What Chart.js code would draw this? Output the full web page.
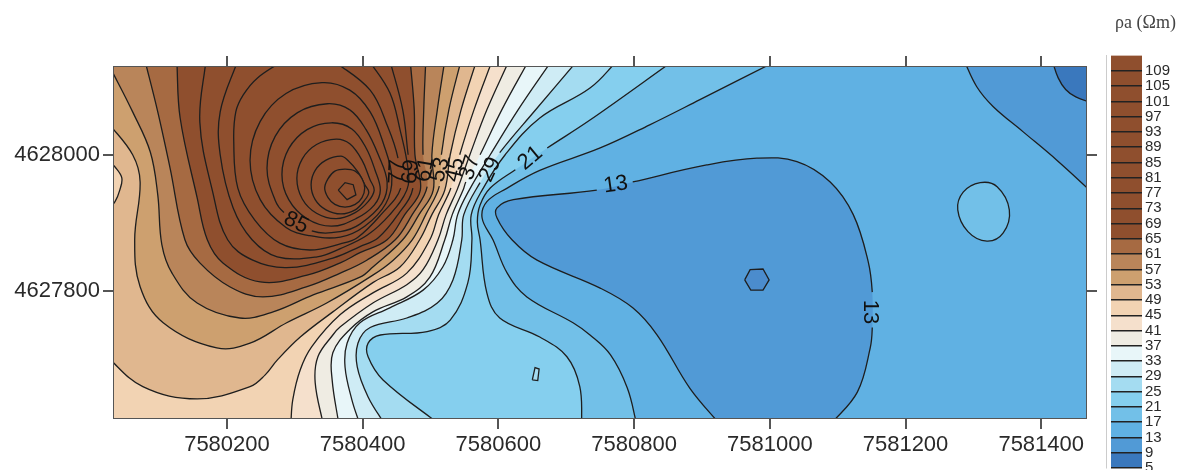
<!DOCTYPE html>
<html>
<head>
<meta charset="utf-8">
<script src="https://cdn.jsdelivr.net/npm/chart.js@4"></script>
<style>
  html, body { margin: 0; background: #fff; overflow: hidden; }
  #wrap { position: relative; width: 1180px; height: 470px; }
  #map { position: absolute; left: 0; top: 0; }
  #scalebar { position: absolute; left: 1106px; top: 0; }
</style>
</head>
<body>
<div id="wrap">
  <canvas id="map" width="1180" height="470"></canvas>
  <canvas id="scalebar" width="74" height="470"></canvas>
</div>
<script>
// Offsets in metres from these two values
const EAST0 = 7580000;
const NORTH0 = 4627600;

const xExtent = [33.5, 1466];
const yExtent = [13, 529];
const xTicks = [7580200, 7580400, 7580600, 7580800, 7581000, 7581200, 7581400];
const yTicks = [4627800, 4628000];

const levels = [5, 9, 13, 17, 21, 25, 29, 33, 37, 41, 45, 49, 53, 57, 61, 65, 69, 73, 77, 81, 85, 89, 93, 97, 101, 105, 109];
const bandColors = ['#3a78bd', '#519ad6', '#60b1e3', '#72c0e8', '#85cfee', '#a4dcf1', '#cfecf5', '#e8f6f9', '#efece3', '#f5e0cc', '#f2d3b3', '#e0b78f', '#cda06f', '#b9855a', '#a66a42', '#8f4f2e'];

// contour lines, [east, north] offsets
const c9Corner = [[1416,539],[1425,513],[1436,496],[1451,485],[1479,475]];
const c9Hole = [[963,216],[971,231],[990,232],[999,216],[990,201],[972,201],[963,216]];
const c13Stripe = [[1286,539],[1305,500],[1329,471],[1373,434],[1423,392],[1479,341]];
const c13Blob = [[927,3],[882,57],[834,135],[798,175],[750,204],[657,245],[620,275],[598,307],[598,322],[622,334],[745,348],[798,360],[907,385],[981,395],[1040,390],[1089,360],[1123,312],[1145,243],[1151,198],[1151,146],[1148,116],[1129,51],[1089,3]];
const c17Island = [[1310,359],[1335,353],[1353,319],[1344,285],[1320,273],[1292,287],[1277,319],[1285,345],[1310,359]];
const c17 = [[1012,539],[897,481],[823,444],[750,410],[661,377],[613,351],[583,331],[576,307],[592,275],[613,226],[642,191],[710,153],[735,135],[765,106],[790,57],[804,3]];
const c21 = [[859,539],[735,451],[672,410],[625,378],[588,351],[573,326],[569,301],[573,275],[583,197],[602,160],[661,132],[701,103],[720,59],[723,3]];
const c25 = [[776,539],[735,498],[661,454],[610,400],[576,348],[560,312],[561,275],[555,212],[529,157],[495,140],[426,135],[408,123],[408,103],[430,69],[514,3]];
const c25Sliver = [[650,69],[654,87],[660,85],[658,68],[650,69]];
const c29 = [[717,539],[654,465],[602,403],[573,359],[549,312],[546,275],[533,216],[510,182],[465,160],[411,146],[393,123],[392,88],[408,44],[433,3]];
const c33 = [[679,539],[629,466],[588,400],[557,348],[540,312],[533,275],[518,235],[489,201],[440,175],[396,153],[377,123],[374,88],[384,40],[396,3]];
const c37 = [[645,539],[605,466],[573,400],[552,360],[548,348],[532,312],[521,275],[499,220],[465,191],[415,169],[381,143],[356,109],[355,69],[365,3]];
const c41 = [[616,539],[583,466],[558,400],[539,348],[523,312],[511,275],[489,231],[465,209],[415,182],[367,147],[356,135],[334,103],[330,65],[342,3]];
const c45 = [[591,539],[564,466],[543,400],[530,351],[512,312],[499,275],[465,226],[415,197],[367,165],[325,118],[308,84],[297,40],[294,3]];
const c49 = [[20,106],[76,59],[156,41],[234,59],[256,76],[274,98],[308,132],[356,169],[415,212],[455,235],[484,275],[502,312],[521,348],[529,400],[545,466],[568,539]];
const c49Hole = [[25,392],[35,382],[45,366],[42,348],[35,331],[25,319]];
const c53 = [[25,447],[61,400],[72,360],[64,275],[72,206],[106,153],[185,116],[234,123],[288,153],[347,182],[415,223],[445,245],[473,275],[493,312],[513,354],[516,400],[527,466],[545,539]];
const c57 = [[28,528],[61,463],[87,404],[98,341],[104,268],[119,226],[156,182],[219,160],[268,169],[327,194],[396,220],[415,235],[459,275],[483,312],[504,348],[502,400],[510,466],[521,539]];
const c61 = [[79,539],[98,463],[116,381],[138,275],[160,241],[204,206],[253,191],[318,206],[367,226],[406,245],[448,275],[473,312],[495,353],[489,400],[490,466],[493,539]];
const c65 = [[126,539],[131,454],[156,337],[171,275],[194,241],[249,213],[318,223],[367,241],[396,256],[436,275],[462,312],[485,348],[477,400],[476,466],[470,539]];
const c69 = [[169,539],[160,448],[179,345],[201,275],[238,245],[288,234],[356,248],[396,265],[423,278],[452,312],[474,351],[467,400],[459,466],[440,539]];
const c73 = [[216,539],[190,463],[190,400],[209,322],[237,275],[274,250],[333,250],[367,262],[407,282],[440,312],[465,348],[467,378],[455,437],[440,491],[409,539]];
const c77 = [[284,539],[245,513],[224,488],[213,463],[210,419],[216,351],[241,304],[278,270],[322,260],[367,269],[392,278],[427,312],[456,351],[452,395],[437,441],[411,495],[356,539]];
const c81 = [[340,506],[381,495],[411,463],[431,415],[443,366],[434,328],[403,295],[367,279],[322,281],[287,293],[249,334],[234,392],[249,449],[287,490],[340,506]];
const c85 = [[348,475],[381,466],[405,437],[423,400],[436,360],[428,328],[396,298],[367,287],[325,288],[284,315],[271,333],[259,380],[271,427],[304,462],[348,475]];
const c89 = [[354,447],[384,438],[405,410],[418,378],[426,348],[417,326],[390,306],[354,295],[318,306],[291,334],[281,371],[291,409],[318,437],[354,447]];
const c93 = [[361,423],[381,416],[399,392],[411,363],[417,348],[408,331],[389,315],[361,306],[332,314],[311,335],[303,365],[311,394],[332,415],[361,423]];
const c97 = [[368,398],[378,392],[393,375],[403,356],[409,345],[402,332],[389,319],[368,313],[346,319],[330,334],[324,356],[330,377],[346,392],[368,398]];
const c101 = [[374,379],[389,376],[399,365],[403,351],[399,337],[389,327],[374,323],[359,327],[349,337],[344,351],[349,365],[359,376],[374,379]];
const c105 = [[364,348],[374,359],[386,356],[390,341],[377,334],[364,348]];

// text on the lines
const labelTexts = ['85', '13', '13', '21', '29', '37', '45', '53', '61', '69', '77'];
const labelEast = [302, 773, 1148, 647, 588, 558, 536, 514, 492, 471, 451];
const labelNorth = [300, 356, 169, 395, 378, 381, 378, 378, 378, 375, 375];
const labelAngles = [25, -8, 90, -40, -65, -72, -76, -76, -80, -85, -87];

const LINE = '#1e1e1e';
const AXIS = '#555555';
const TEXT = '#2a2a2a';
const FONT = '"Liberation Sans", Arial, sans-serif';

const topLeft = [[-50, 570]];
const leftSide = [[-50, -30], [-50, 570]];
const topRight = [[1500, 330], [1500, 560]];

const band = (level) => bandColors[Math.min(levels.indexOf(level), bandColors.length - 1)];
const toXY = (pts) => pts.map(p => ({ x: EAST0 + p[0], y: NORTH0 + p[1] }));

// painted in this order, each layer over the one before
const layers = [
  { pts: c13Stripe, close: topRight, color: band(9) },
  { pts: c9Corner, close: topRight, color: band(5) },
  { pts: c13Blob, color: band(9), gaps: [10, 18] },
  { pts: c9Hole, color: '#4b8ccd', sharp: true },
  { pts: c17Island, color: band(17), ring: true },
  { pts: c17, close: leftSide, color: band(17) },
  { pts: c21, close: leftSide, color: band(21), gaps: [2] },
  { pts: c25, close: leftSide, color: band(25) },
  { pts: c25Sliver, color: band(25), sharp: true },
  { pts: c29, close: leftSide, color: band(29), gaps: [2] },
  { pts: c33, close: leftSide, color: band(33) },
  { pts: c37, close: leftSide, color: band(37), gaps: [2] },
  { pts: c41, close: leftSide, color: band(41) },
  { pts: c45, close: leftSide, color: band(45), gaps: [2] },
  { pts: c49, close: topLeft, color: band(49) },
  { pts: c49Hole, color: band(45) },
  { pts: c53, close: topLeft, color: band(53), gaps: [14] },
  { pts: c57, close: topLeft, color: band(57) },
  { pts: c61, color: band(61), gaps: [12] },
  { pts: c65, color: band(65) },
  { pts: c69, color: band(69), gaps: [10] },
  { pts: c73, color: band(73) },
  { pts: c77, color: band(77), gaps: [12] },
  { pts: c81, color: band(81), ring: true },
  { pts: c85, color: band(85), gaps: [8], ring: true },
  { pts: c89, color: band(89), ring: true },
  { pts: c93, color: band(93), ring: true },
  { pts: c97, color: band(97), ring: true },
  { pts: c101, color: band(101), ring: true },
  { pts: c105, color: band(105), sharp: true }
];

const datasets = [{
  // background band of the whole plot
  data: toXY([[xExtent[0], yExtent[0]], [xExtent[1], yExtent[0]], [xExtent[1], yExtent[1]], [xExtent[0], yExtent[1]]]),
  showLine: true, fill: 'shape', backgroundColor: band(13), borderWidth: 0, pointRadius: 0
}];

layers.forEach(layer => {
  const tension = layer.sharp ? 0 : 0.38;
  // rings run on past the start and hide both ends, so the join stays smooth
  const line = layer.ring ? layer.pts.concat([layer.pts[1], layer.pts[2]]) : layer.pts;
  const gaps = (layer.gaps || []).concat(layer.ring ? [0, line.length - 2] : []);
  // last point repeated so the outline bends the same way as the stroke
  const shape = line.concat([line[line.length - 1]], layer.close || []);
  datasets.push({
    data: toXY(shape),
    showLine: true, fill: 'shape', backgroundColor: layer.color,
    borderWidth: 0, pointRadius: 0, tension: tension
  });
  datasets.push({
    data: toXY(line),
    showLine: true, fill: false, borderColor: LINE, borderWidth: 1.3,
    pointRadius: 0, tension: tension,
    segment: { borderColor: ctx => gaps.includes(ctx.p0DataIndex) ? 'rgba(0,0,0,0)' : undefined }
  });
});
datasets.forEach((d, i) => { d.order = -i; });

const lineLabels = {
  id: 'lineLabels',
  afterDatasetsDraw(chart) {
    const { ctx, scales } = chart;
    ctx.save();
    ctx.font = '22px ' + FONT;
    ctx.fillStyle = '#111111';
    ctx.textAlign = 'center';
    ctx.textBaseline = 'middle';
    labelTexts.forEach((text, i) => {
      ctx.save();
      ctx.translate(scales.x.getPixelForValue(EAST0 + labelEast[i]), scales.y.getPixelForValue(NORTH0 + labelNorth[i]));
      ctx.rotate(labelAngles[i] * Math.PI / 180);
      ctx.fillText(text, 0, 0);
      ctx.restore();
    });
    ctx.restore();
  }
};

const sideAxis = (position, size, isX, labelled) => ({
  type: 'linear',
  position: position,
  min: (isX ? EAST0 + xExtent[0] : NORTH0 + yExtent[0]),
  max: (isX ? EAST0 + xExtent[1] : NORTH0 + yExtent[1]),
  afterBuildTicks: s => { s.ticks = (isX ? xTicks : yTicks).map(v => ({ value: v })); },
  afterFit: s => { if (isX) s.height = size; else s.width = size; },
  border: { display: true, color: AXIS, width: 2 },
  grid: { drawOnChartArea: false, drawTicks: true, tickLength: 11, color: AXIS, lineWidth: 2 },
  ticks: {
    display: labelled,
    autoSkip: false,
    maxRotation: 0,
    padding: 3,
    color: TEXT,
    font: { family: FONT, size: 22 },
    callback: v => String(v)
  }
});

new Chart(document.getElementById('map'), {
  type: 'scatter',
  data: { datasets: datasets },
  plugins: [lineLabels],
  options: {
    responsive: false,
    animation: false,
    layout: { padding: 0 },
    plugins: { legend: { display: false }, tooltip: { enabled: false } },
    scales: {
      x: sideAxis('bottom', 52, true, true),
      x2: sideAxis('top', 67, true, false),
      y: sideAxis('left', 114, false, true),
      y2: sideAxis('right', 94, false, false)
    }
  }
});

// colour scale, one floating bar per interval
const topLevel = 113;
const scaleSets = levels.map((level, i) => ({
  data: [[level, i + 1 < levels.length ? levels[i + 1] : topLevel]],
  backgroundColor: band(level),
  borderWidth: 0,
  grouped: false,
  barPercentage: 1,
  categoryPercentage: 1
}));

new Chart(document.getElementById('scalebar'), {
  type: 'bar',
  data: { labels: ['ρa'], datasets: scaleSets },
  options: {
    responsive: false,
    animation: false,
    layout: { padding: { left: 5 } },
    plugins: {
      legend: { display: false },
      tooltip: { enabled: false },
      title: {
        display: true,
        text: 'ρa (Ωm)',
        color: '#444444',
        font: { family: '"Liberation Serif", serif', size: 18, weight: 'normal' },
        padding: { top: 12, bottom: 22 }
      }
    },
    scales: {
      x: { display: false, grid: { display: false } },
      y: {
        position: 'right',
        min: 5,
        max: topLevel,
        afterBuildTicks: s => { s.ticks = levels.map(v => ({ value: v })); },
        afterFit: s => { s.width = 38; s.paddingTop = 0; s.paddingBottom = 2; },
        border: { display: true, color: '#999999', width: 1 },
        grid: { color: '#222222', lineWidth: 1.5, z: 1, drawTicks: false },
        ticks: { autoSkip: false, padding: 3, color: TEXT, font: { family: FONT, size: 15 } }
      }
    }
  }
});
</script>
</body>
</html>
